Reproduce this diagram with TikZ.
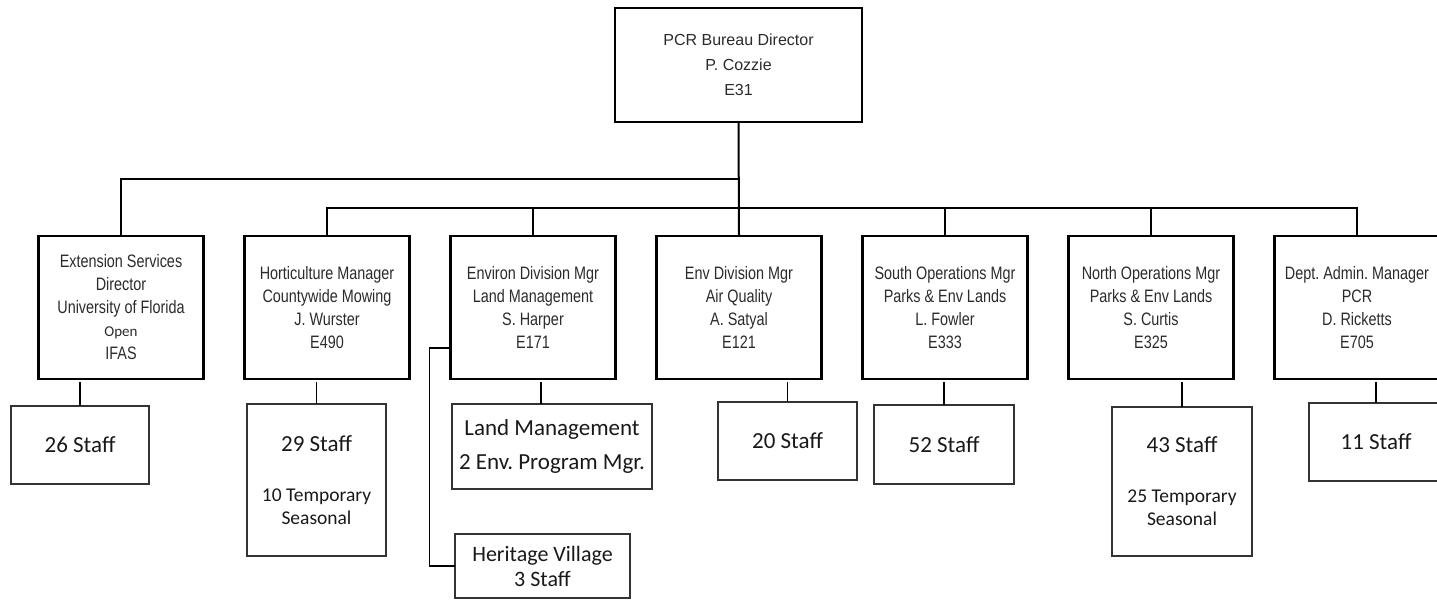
\documentclass[tikz,border=0pt]{standalone}
\usepackage{fontspec}
\setmainfont{Liberation Sans}
\newfontfamily\narrowsans[FakeStretch=0.8]{Liberation Sans}
\newfontfamily\calibri{Carlito}
\usetikzlibrary{positioning,calc}
\definecolor{textgrey}{HTML}{2B2B2B}
\newcommand\tempsize{\fontsize{19.5}{23}\selectfont}
\frenchspacing

\begin{document}
\begin{tikzpicture}[x=1pt,y=-1pt,
  node distance=41pt,
  head/.style={draw,line width=2.2pt,minimum width=247pt,minimum height=114pt,align=center,outer sep=0pt,text=textgrey,font=\fontsize{16}{25}\selectfont},
  mgr/.style={draw,line width=2.4pt,minimum width=165pt,minimum height=143pt,align=center,outer sep=0pt,inner sep=0pt,text=textgrey,font=\narrowsans\fontsize{18}{23}\selectfont},
  staff/.style={draw=black!80,line width=1.5pt,align=center,outer sep=0pt,inner sep=0pt,text=black!90,font=\calibri\fontsize{23}{30}\selectfont},
  link/.style={line width=2pt},
  stub/.style={line width=1.3pt}]
  \useasboundingbox (0,0) rectangle (1437,600);
  % bureau and division managers
  \node[head] (bureau) at (738.5,65) {PCR Bureau Director\\P. Cozzie\\E31};
  \node[mgr] (ext) at (121,307.5) {Extension Services\\Director\\University of Florida\\{\calibri\fontsize{15}{23}\selectfont Open}\\IFAS};
  \node[mgr,right=of ext] (hort) {Horticulture Manager\\Countywide Mowing\\J. Wurster\\E490};
  \node[mgr,right=of hort] (environ) {Environ Division Mgr\\Land Management\\S. Harper\\E171};
  \node[mgr,right=of environ] (airq) {Env Division Mgr\\Air Quality\\A. Satyal\\E121};
  \node[mgr,right=of airq] (south) {South Operations Mgr\\Parks \& Env Lands\\L. Fowler\\E333};
  \node[mgr,right=of south] (north) {North Operations Mgr\\Parks \& Env Lands\\S. Curtis\\E325};
  \node[mgr,right=of north] (dept) {Dept. Admin. Manager\\PCR\\D. Ricketts\\E705};
  % staff boxes
  \node[staff,minimum width=138pt,minimum height=78pt] (s26) at (80,445) {26 Staff};
  \node[staff,minimum width=139pt,minimum height=152pt,font=\calibri\fontsize{23}{23}\selectfont] (s29) at (316.5,480) {29 Staff\\[27pt]\tempsize 10 Temporary\\\tempsize Seasonal};
  \node[staff,minimum width=200pt,minimum height=85pt,font=\calibri\fontsize{23}{34}\selectfont] (land) at (552,446.5) {Land Management\\2 Env. Program Mgr.};
  \node[staff,minimum width=175pt,minimum height=64pt,font=\calibri\fontsize{22}{25}\selectfont] (herit) at (542.5,566) {Heritage Village\\3 Staff};
  \node[staff,minimum width=139pt,minimum height=78pt] (s20) at (787.5,441) {20 Staff};
  \node[staff,minimum width=140pt,minimum height=79pt] (s52) at (944,444.5) {52 Staff};
  \node[staff,minimum width=140pt,minimum height=149pt,font=\calibri\fontsize{23}{23}\selectfont] (s43) at (1182,481.5) {43 Staff\\[27pt]\tempsize 25 Temporary\\\tempsize Seasonal};
  \node[staff,minimum width=134pt,minimum height=78pt] (s11) at (1376,442) {11 Staff};
  % reporting lines
  \coordinate (bar1) at ($(bureau.south)!0.5!(airq.north)$);
  \draw[link] (bureau.south) -- (airq.north);
  \draw[link] (ext.north) |- (bar1);
  \draw[link] (hort.north) -- ++(0,-28) -| (dept.north);
  \foreach \m in {environ,south,north} \draw[link] (\m.north) -- ++(0,-28);
  \foreach \m/\s in {ext/s26,hort/s29,airq/s20,south/s52,north/s43,dept/s11} \draw[stub,shorten >=3pt] (\s.north) -- (\s.north |- \m.south);
  \draw[stub,shorten >=3pt] ([xshift=-11pt]land.north) -- ([xshift=-11pt]land.north |- environ.south);
  \draw[stub] ([yshift=-40.5pt]environ.west) -- ++(-21,0) |- (herit.west);
\end{tikzpicture}
\end{document}
